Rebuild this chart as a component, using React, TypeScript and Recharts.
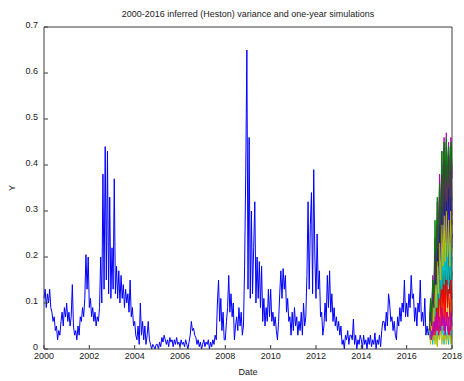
import { LineChart, Line, XAxis, YAxis } from "recharts";

const FONT = '"Liberation Sans", Arial, Helvetica, sans-serif';
const AXIS = "#3a3a3a";
const INK = "#1a1a1a";

// inferred variance, sampled every 0.05 year starting in 2000 (one row per year)
const VARIANCE_START = 2000;
const VARIANCE_STEP = 0.05;
const inferredVariance = [
  0.11, 0.13, 0.09, 0.12, 0.1, 0.13, 0.09, 0.08, 0.06, 0.07, 0.04, 0.05, 0.02, 0.04, 0.03, 0.06, 0.08, 0.05, 0.09, 0.07,
  0.1, 0.06, 0.08, 0.05, 0.07, 0.14, 0.05, 0.03, 0.04, 0.02, 0.05, 0.03, 0.07, 0.06, 0.09, 0.07, 0.11, 0.205, 0.13, 0.2,
  0.09, 0.11, 0.07, 0.09, 0.06, 0.08, 0.05, 0.07, 0.06, 0.09, 0.2, 0.1, 0.38, 0.13, 0.44, 0.15, 0.43, 0.12, 0.33, 0.11,
  0.22, 0.13, 0.37, 0.12, 0.18, 0.11, 0.17, 0.1, 0.16, 0.11, 0.14, 0.09, 0.13, 0.1, 0.12, 0.08, 0.15, 0.07, 0.09, 0.05,
  0.06, 0.03, 0.02, 0.05, 0.01, 0.1, 0.03, 0.06, 0.02, 0.05, 0.01, 0.03, 0.06, 0.02, 0.01, 0.0, 0.01, 0.005, 0.0, 0.01,
  0.01, 0.0, 0.015, 0.005, 0.025, 0.015, 0.03, 0.02, 0.01, 0.02, 0.005, 0.025, 0.015, 0.02, 0.005, 0.02, 0.01, 0.025, 0.01, 0.015,
  0.005, 0.02, 0.01, 0.015, 0.005, 0.02, 0.01, 0.0, 0.015, 0.03, 0.06, 0.04, 0.045, 0.03, 0.025, 0.01, 0.02, 0.005, 0.015, 0.0,
  0.01, 0.02, 0.005, 0.015, 0.01, 0.02, 0.0, 0.015, 0.005, 0.02, 0.01, 0.03, 0.02, 0.1, 0.15, 0.06, 0.11, 0.04, 0.08, 0.02,
  0.02, 0.06, 0.09, 0.16, 0.08, 0.12, 0.07, 0.1, 0.02, 0.05, 0.07, 0.04, 0.09, 0.05, 0.08, 0.03, 0.05, 0.18, 0.38, 0.65,
  0.13, 0.46, 0.11, 0.3, 0.12, 0.22, 0.32, 0.1, 0.2, 0.11, 0.19, 0.09, 0.18, 0.06, 0.11, 0.05, 0.09, 0.06, 0.13, 0.07,
  0.13, 0.06, 0.08, 0.05, 0.07, 0.04, 0.02, 0.06, 0.12, 0.17, 0.11, 0.175, 0.13, 0.16, 0.08, 0.11, 0.06, 0.07, 0.03, 0.08,
  0.04, 0.09, 0.05, 0.07, 0.03, 0.06, 0.04, 0.08, 0.03, 0.1, 0.05, 0.07, 0.16, 0.32, 0.13, 0.27, 0.34, 0.12, 0.39, 0.2,
  0.11, 0.25, 0.13, 0.17, 0.07, 0.08, 0.03, 0.05, 0.1, 0.06, 0.16, 0.09, 0.17, 0.08, 0.12, 0.06, 0.09, 0.05, 0.07, 0.04,
  0.06, 0.03, 0.05, 0.01, 0.02, 0.0, 0.03, 0.02, 0.04, 0.01, 0.03, 0.03, 0.02, 0.065, 0.01, 0.03, 0.0, 0.02, 0.01, 0.03,
  0.02, 0.0, 0.03, 0.01, 0.02, 0.0, 0.025, 0.01, 0.03, 0.005, 0.02, 0.01, 0.035, 0.0, 0.02, 0.01, 0.03, 0.005, 0.04, 0.06,
  0.06, 0.04, 0.08, 0.05, 0.12, 0.1, 0.06, 0.07, 0.04, 0.06, 0.03, 0.02, 0.07, 0.05, 0.09, 0.06, 0.1, 0.08, 0.15, 0.07,
  0.1, 0.07, 0.12, 0.09, 0.16, 0.11, 0.12, 0.06, 0.09, 0.05, 0.1, 0.08, 0.15, 0.06, 0.08, 0.05, 0.11, 0.03, 0.05, 0.03,
  0.04, 0.02, 0.05,
];

// one-year simulated paths, every 0.05 year from the start of 2017
const SIM_START = 2017;
const SIM_STEP = 0.05;
const simPaths = [
  [0.04, 0.08, 0.05, 0.13, 0.09, 0.2, 0.14, 0.26, 0.19, 0.33, 0.24, 0.4, 0.29, 0.44, 0.33, 0.41, 0.3, 0.44, 0.35, 0.43, 0.37],
  [0.04, 0.06, 0.03, 0.08, 0.05, 0.11, 0.07, 0.14, 0.09, 0.17, 0.11, 0.19, 0.12, 0.21, 0.13, 0.2, 0.14, 0.22, 0.15, 0.19, 0.16],
  [0.04, 0.03, 0.07, 0.04, 0.11, 0.07, 0.16, 0.1, 0.21, 0.13, 0.26, 0.17, 0.3, 0.2, 0.32, 0.22, 0.29, 0.19, 0.31, 0.21, 0.28],
  [0.04, 0.02, 0.05, 0.01, 0.04, 0.02, 0.06, 0.01, 0.05, 0.02, 0.07, 0.03, 0.05, 0.01, 0.06, 0.02, 0.04, 0.01, 0.05, 0.02, 0.04],
  [0.04, 0.1, 0.06, 0.16, 0.11, 0.24, 0.17, 0.32, 0.22, 0.38, 0.27, 0.43, 0.31, 0.46, 0.35, 0.47, 0.36, 0.45, 0.34, 0.46, 0.38],
  [0.04, 0.05, 0.02, 0.06, 0.03, 0.08, 0.04, 0.1, 0.05, 0.11, 0.06, 0.13, 0.07, 0.12, 0.06, 0.13, 0.08, 0.11, 0.06, 0.12, 0.07],
  [0.04, 0.07, 0.04, 0.12, 0.08, 0.18, 0.11, 0.24, 0.15, 0.29, 0.19, 0.33, 0.22, 0.36, 0.25, 0.34, 0.23, 0.37, 0.26, 0.35, 0.24],
  [0.04, 0.02, 0.06, 0.04, 0.1, 0.06, 0.14, 0.09, 0.18, 0.11, 0.22, 0.14, 0.25, 0.16, 0.27, 0.18, 0.26, 0.17, 0.28, 0.19, 0.25],
  [0.04, 0.09, 0.06, 0.14, 0.1, 0.22, 0.15, 0.28, 0.2, 0.34, 0.25, 0.39, 0.28, 0.43, 0.31, 0.45, 0.33, 0.42, 0.3, 0.44, 0.32],
  [0.04, 0.03, 0.06, 0.02, 0.07, 0.03, 0.08, 0.04, 0.09, 0.03, 0.1, 0.05, 0.09, 0.04, 0.11, 0.05, 0.08, 0.03, 0.1, 0.04, 0.09],
  [0.04, 0.06, 0.03, 0.09, 0.05, 0.13, 0.08, 0.17, 0.1, 0.2, 0.12, 0.23, 0.14, 0.25, 0.15, 0.24, 0.14, 0.26, 0.16, 0.23, 0.15],
  [0.04, 0.08, 0.05, 0.13, 0.09, 0.19, 0.13, 0.26, 0.17, 0.31, 0.21, 0.36, 0.25, 0.39, 0.27, 0.4, 0.28, 0.38, 0.26, 0.41, 0.29],
  [0.04, 0.01, 0.03, 0.02, 0.04, 0.01, 0.03, 0.005, 0.04, 0.02, 0.05, 0.01, 0.03, 0.02, 0.04, 0.01, 0.03, 0.02, 0.04, 0.01, 0.03],
  [0.04, 0.05, 0.03, 0.07, 0.04, 0.1, 0.06, 0.12, 0.07, 0.15, 0.09, 0.16, 0.1, 0.18, 0.11, 0.17, 0.1, 0.19, 0.12, 0.16, 0.11],
  [0.04, 0.07, 0.04, 0.11, 0.07, 0.16, 0.1, 0.22, 0.14, 0.27, 0.18, 0.31, 0.21, 0.34, 0.23, 0.32, 0.21, 0.35, 0.24, 0.33, 0.22],
  [0.04, 0.11, 0.07, 0.15, 0.12, 0.28, 0.18, 0.33, 0.23, 0.36, 0.28, 0.43, 0.32, 0.45, 0.36, 0.46, 0.37, 0.44, 0.36, 0.45, 0.39],
  [0.04, 0.06, 0.03, 0.07, 0.04, 0.09, 0.05, 0.11, 0.06, 0.13, 0.08, 0.15, 0.09, 0.14, 0.08, 0.16, 0.09, 0.13, 0.08, 0.15, 0.09],
  [0.04, 0.03, 0.07, 0.05, 0.1, 0.07, 0.13, 0.09, 0.16, 0.11, 0.19, 0.13, 0.22, 0.14, 0.23, 0.15, 0.21, 0.14, 0.22, 0.15, 0.2],
  [0.04, 0.05, 0.02, 0.06, 0.03, 0.07, 0.04, 0.08, 0.03, 0.07, 0.04, 0.09, 0.05, 0.07, 0.03, 0.08, 0.04, 0.07, 0.03, 0.08, 0.05],
  [0.04, 0.06, 0.04, 0.1, 0.06, 0.14, 0.09, 0.19, 0.12, 0.23, 0.15, 0.27, 0.18, 0.29, 0.19, 0.3, 0.2, 0.28, 0.18, 0.3, 0.21],
  [0.04, 0.08, 0.05, 0.12, 0.09, 0.21, 0.14, 0.27, 0.18, 0.33, 0.23, 0.38, 0.27, 0.41, 0.29, 0.4, 0.28, 0.42, 0.3, 0.39, 0.27],
];

// classic MATLAB line colour cycle
const simColors = ["#0000ff", "#008000", "#ff0000", "#00bfbf", "#bf00bf", "#bfbf00", "#404040"];

const yearTicks = [2000, 2002, 2004, 2006, 2008, 2010, 2012, 2014, 2016, 2018];
const varianceTicks = [0, 0.1, 0.2, 0.3, 0.4, 0.5, 0.6, 0.7];

function toSeries(values: number[], start: number, step: number) {
  return values.map((v, i) => ({ date: start + i * step, value: v }));
}

const tickStyle = { fontSize: 9, fill: INK, fontFamily: FONT };

// y tick labels sit a touch above their tick marks
function VarianceTick({ x, y, payload }: any) {
  const v = payload.value as number;
  return (
    <text x={x} y={y - 2} dy="0.35em" textAnchor="end" fontSize={9} fill={INK} fontFamily={FONT}>
      {v === 0 ? "0" : v.toFixed(1)}
    </text>
  );
}

export default function App() {
  const history = toSeries(inferredVariance, VARIANCE_START, VARIANCE_STEP);

  return (
    <div style={{ position: "absolute", left: 0, top: 0, width: 464, height: 381, background: "#fff" }}>
      <div
        style={{
          position: "absolute",
          left: 44,
          width: 408,
          top: 9,
          textAlign: "center",
          fontFamily: FONT,
          fontSize: 9,
          lineHeight: "11px",
          color: INK,
        }}
      >
        2000-2016 inferred (Heston) variance and one-year simulations
      </div>
      <LineChart width={464} height={381} margin={{ top: 26, right: 11, bottom: 0, left: 0 }}>
        <XAxis
          dataKey="date"
          type="number"
          domain={[2000, 2018]}
          ticks={yearTicks}
          tickSize={-4}
          tickMargin={8}
          height={32}
          axisLine={{ stroke: AXIS }}
          tickLine={{ stroke: AXIS }}
          tick={tickStyle}
          label={{ value: "Date", position: "insideBottom", offset: 6, fontSize: 9, fill: INK, fontFamily: FONT }}
        />
        <XAxis
          xAxisId="top"
          orientation="top"
          type="number"
          domain={[2000, 2018]}
          ticks={yearTicks}
          tickSize={-4}
          height={1}
          tick={false}
          axisLine={{ stroke: AXIS }}
          tickLine={{ stroke: AXIS }}
        />
        <YAxis
          type="number"
          domain={[0, 0.7]}
          ticks={varianceTicks}
          tickSize={-4}
          tickMargin={10}
          width={44}
          axisLine={{ stroke: AXIS }}
          tickLine={{ stroke: AXIS }}
          tick={<VarianceTick />}
          label={{
            value: "Y",
            angle: -90,
            position: "insideLeft",
            offset: 12,
            fontSize: 9,
            fill: INK,
            fontFamily: FONT,
            style: { textAnchor: "middle" },
          }}
        />
        <YAxis
          yAxisId="right"
          orientation="right"
          type="number"
          domain={[0, 0.7]}
          ticks={varianceTicks}
          tickSize={-4}
          width={1}
          tick={false}
          axisLine={{ stroke: AXIS }}
          tickLine={{ stroke: AXIS }}
        />
        <Line
          data={history}
          dataKey="value"
          type="linear"
          stroke="#0000ff"
          strokeWidth={1}
          dot={false}
          activeDot={false}
          isAnimationActive={false}
        />
        {simPaths.map((path, i) => (
          <Line
            key={i}
            data={toSeries(path, SIM_START, SIM_STEP)}
            dataKey="value"
            type="linear"
            stroke={simColors[i % simColors.length]}
            strokeWidth={1}
            dot={false}
            activeDot={false}
            isAnimationActive={false}
          />
        ))}
      </LineChart>
    </div>
  );
}
